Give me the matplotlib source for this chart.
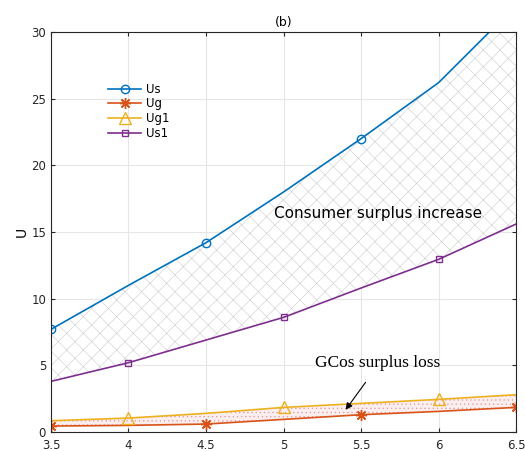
import matplotlib.pyplot as plt
import numpy as np

x = [3.5, 4, 4.5, 5, 5.5, 6, 6.5]
us = [7.7, 11.0, 14.2, 18.0, 22.0, 26.2, 32.0]
ug = [0.45, 0.5, 0.6, 0.95, 1.3, 1.55, 1.85]
ug1 = [0.85, 1.05, 1.4, 1.85, 2.15, 2.45, 2.8]
us1 = [3.8, 5.2, 6.9, 8.6, 10.8, 12.95, 15.6]

c_us = '#0072BD'
c_ug = '#D95319'
c_ug1 = '#EDB120'
c_us1 = '#7E2F8E'

plt.rcParams['hatch.linewidth'] = 0.4
fig = plt.figure(figsize=(5.25, 4.51), dpi=100)
ax = fig.add_axes([0.097, 0.042, 0.886, 0.887])

ax.fill_between(x, us1, us, facecolor='white', edgecolor='#cccccc', hatch='xx', linewidth=0)
ax.fill_between(x, ug, ug1, facecolor='#fbeeee', edgecolor='#e09a9a', hatch='....', linewidth=0)

ax.plot(x, us, color=c_us, marker='o', markevery=[0, 2, 4], mfc='none', ms=6, lw=1.2, label='Us')
ax.plot(x, ug, color=c_ug, marker=(8, 2, 0), markevery=[0, 2, 4, 6], ms=8, mew=1.0, lw=1.2, label='Ug')
ax.plot(x, ug1, color=c_ug1, marker='^', markevery=[1, 3, 5], mfc='none', ms=8, lw=1.2, label='Ug1')
ax.plot(x, us1, color=c_us1, marker='s', markevery=[1, 3, 5], mfc='none', ms=5, lw=1.2, label='Us1')

ax.set_xlim(3.5, 6.5)
ax.set_ylim(0, 30)
ax.set_xticks([3.5, 4, 4.5, 5, 5.5, 6, 6.5])
ax.set_xticklabels(['3.5', '4', '4.5', '5', '5.5', '6', '6.5'])
ax.set_yticks([0, 5, 10, 15, 20, 25, 30])
ax.tick_params(labelsize=8.5, direction='in', colors='#262626', length=3, top=True, right=True)
ax.tick_params(axis='x', pad=5)
ax.grid(True, color='#e6e6e6', lw=0.8)
ax.set_axisbelow(True)
for s in ax.spines.values():
    s.set_color('#262626')
    s.set_linewidth(0.8)

ax.set_ylabel('U', fontsize=10, labelpad=2)
ax.set_title('(b)', fontsize=9, pad=4)

ax.text(5.61, 16.4, 'Consumer surplus increase', fontsize=11, ha='center', va='center')
ax.text(5.61, 5.2, 'GCos surplus loss', fontsize=12.5, ha='center', va='center', family='Liberation Serif')
ax.annotate('', xy=(5.39, 1.5), xytext=(5.54, 3.9),
            arrowprops=dict(arrowstyle='-|>', color='black', lw=0.8, mutation_scale=10))

ax.legend(loc='upper left', bbox_to_anchor=(0.1, 0.9), frameon=False, fontsize=8.5,
          handlelength=2.8, labelspacing=0.15, handletextpad=0.4)

fig.savefig('out.png')
